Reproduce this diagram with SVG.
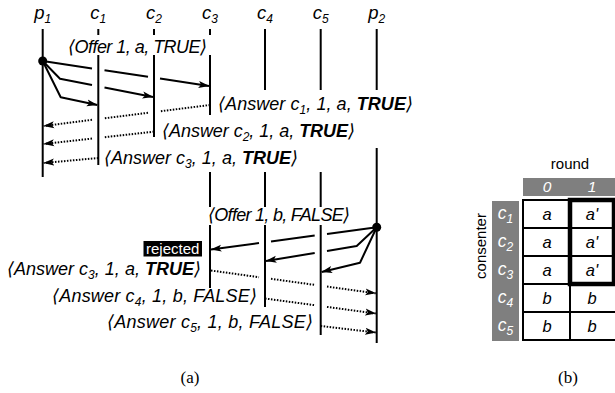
<svg xmlns="http://www.w3.org/2000/svg" width="615" height="393" viewBox="0 0 615 393">
<style>
text{font-family:"Liberation Sans","DejaVu Sans",Arial,sans-serif;fill:#000}
.hdr{font-size:18.5px;font-style:italic;text-anchor:middle}
.lbl{font-size:18px;font-style:italic}
.s{font-size:12px}
.b{font-weight:bold}
.life{stroke:#000;stroke-width:2;fill:none}
.sol{stroke:#000;stroke-width:2;fill:none;stroke-linejoin:round}
.dot{stroke:#000;stroke-width:2;fill:none;stroke-dasharray:1.5 1.5}
.gray{fill:#7f7f7f}
.wt{fill:#fff;font-style:italic}
.cell{font-size:16.5px;font-style:italic;text-anchor:middle}
.grid{stroke:#000;stroke-width:2;fill:none}
.cap{font-family:"Liberation Serif","Times New Roman",serif;font-size:17px;text-anchor:middle}
</style>
<defs>
<marker id="ah" markerUnits="userSpaceOnUse" markerWidth="11" markerHeight="8" viewBox="0 0 11 8" refX="10.5" refY="4" orient="auto">
<path d="M0,0.5 L11,4 L0,7.5 L2.5,4 z" fill="#000"/>
</marker>
</defs>

<g id="lifelines">
<g id="p1"><text class="hdr" x="42.7" y="19">p<tspan class="s" dy="4">1</tspan></text><line class="life" x1="42.7" y1="29" x2="42.7" y2="177"/></g>
<g id="c1"><text class="hdr" x="98.3" y="19">c<tspan class="s" dy="4">1</tspan></text><line class="life" x1="98.3" y1="29" x2="98.3" y2="35"/><line class="life" x1="98.3" y1="55" x2="98.3" y2="165"/></g>
<g id="c2"><text class="hdr" x="154" y="19">c<tspan class="s" dy="4">2</tspan></text><line class="life" x1="154" y1="29" x2="154" y2="35"/><line class="life" x1="154" y1="55" x2="154" y2="137"/></g>
<g id="c3"><text class="hdr" x="210" y="19">c<tspan class="s" dy="4">3</tspan></text><line class="life" x1="210" y1="29" x2="210" y2="35"/><line class="life" x1="210" y1="55" x2="210" y2="115"/><line class="life" x1="210" y1="172" x2="210" y2="207"/><line class="life" x1="210" y1="225" x2="210" y2="288"/></g>
<g id="c4"><text class="hdr" x="265" y="19">c<tspan class="s" dy="4">4</tspan></text><line class="life" x1="265" y1="29" x2="265" y2="90"/><line class="life" x1="265" y1="172" x2="265" y2="207"/><line class="life" x1="265" y1="225" x2="265" y2="307"/></g>
<g id="c5"><text class="hdr" x="320.7" y="19">c<tspan class="s" dy="4">5</tspan></text><line class="life" x1="320.7" y1="29" x2="320.7" y2="90"/><line class="life" x1="320.7" y1="172" x2="320.7" y2="207"/><line class="life" x1="320.7" y1="225" x2="320.7" y2="335"/></g>
<g id="p2"><text class="hdr" x="376.7" y="19">p<tspan class="s" dy="4">2</tspan></text><line class="life" x1="376.7" y1="29" x2="376.7" y2="90"/><line class="life" x1="376.7" y1="148" x2="376.7" y2="343"/></g>
</g>

<g id="connectors">
<circle cx="42.7" cy="61" r="4.5" fill="#000"/>
<polyline class="sol" points="42.7,61 92,68.4"/>
<polyline class="sol" points="104.5,70.3 148,76.8"/>
<polyline class="sol" points="160,78.6 209,86" marker-end="url(#ah)"/>
<polyline class="sol" points="42.7,61 60,78.7 92,85"/>
<polyline class="sol" points="104.5,87.5 153,97" marker-end="url(#ah)"/>
<polyline class="sol" points="42.7,61 60.7,97.3 97.3,105" marker-end="url(#ah)"/>

<polyline class="dot" points="210,105 160,111.3"/>
<polyline class="dot" points="148,112.8 104.5,118.3"/>
<polyline class="dot" points="92,119.8 43.7,126" marker-end="url(#ah)"/>
<polyline class="dot" points="154,131.7 104.5,137.2"/>
<polyline class="dot" points="92,138.6 43.7,144" marker-end="url(#ah)"/>
<polyline class="dot" points="98.3,158 43.7,163" marker-end="url(#ah)"/>

<circle cx="376.7" cy="227.3" r="4.5" fill="#000"/>
<polyline class="sol" points="376.7,227.3 327,234"/>
<polyline class="sol" points="314.7,235.6 271,241.5"/>
<polyline class="sol" points="259,243.1 211,249.5" marker-end="url(#ah)"/>
<polyline class="sol" points="376.7,227.3 356.7,246 327,250.9"/>
<polyline class="sol" points="314.7,253 266,261" marker-end="url(#ah)"/>
<polyline class="sol" points="376.7,227.3 360,262.7 321.7,272" marker-end="url(#ah)"/>

<polyline class="dot" points="211,270.5 259,277.2"/>
<polyline class="dot" points="271,278.8 314.7,284.9"/>
<polyline class="dot" points="327,286.6 375.7,293.3" marker-end="url(#ah)"/>
<polyline class="dot" points="265,298.5 314.7,305.2"/>
<polyline class="dot" points="327,306.9 375.7,313.5" marker-end="url(#ah)"/>
<polyline class="dot" points="320.7,326 375.7,332.5" marker-end="url(#ah)"/>
</g>

<g id="labels">
<text class="lbl" x="68" y="52.5" textLength="139" lengthAdjust="spacing">⟨Offer 1, a, TRUE⟩</text>
<text class="lbl" x="218" y="110" textLength="195" lengthAdjust="spacing">⟨Answer c<tspan class="s" dy="4">1</tspan><tspan dy="-4">, 1, a, </tspan><tspan class="b">TRUE</tspan>⟩</text>
<text class="lbl" x="162" y="136.5" textLength="193" lengthAdjust="spacing">⟨Answer c<tspan class="s" dy="4">2</tspan><tspan dy="-4">, 1, a, </tspan><tspan class="b">TRUE</tspan>⟩</text>
<text class="lbl" x="104" y="163.5" textLength="194" lengthAdjust="spacing">⟨Answer c<tspan class="s" dy="4">3</tspan><tspan dy="-4">, 1, a, </tspan><tspan class="b">TRUE</tspan>⟩</text>
<text class="lbl" x="208" y="221" textLength="142" lengthAdjust="spacing">⟨Offer 1, b, FALSE⟩</text>
<g id="rejected"><rect x="143.5" y="241" width="58.5" height="15.5" fill="#000"/><text x="172.7" y="253.7" font-size="15" text-anchor="middle" style="fill:#fff">rejected</text></g>
<text class="lbl" x="7" y="275" textLength="194" lengthAdjust="spacing">⟨Answer c<tspan class="s" dy="4">3</tspan><tspan dy="-4">, 1, a, </tspan><tspan class="b">TRUE</tspan>⟩</text>
<text class="lbl" x="52" y="301.5" textLength="205" lengthAdjust="spacing">⟨Answer c<tspan class="s" dy="4">4</tspan><tspan dy="-4">, 1, b, FALSE⟩</tspan></text>
<text class="lbl" x="107" y="328" textLength="206" lengthAdjust="spacing">⟨Answer c<tspan class="s" dy="4">5</tspan><tspan dy="-4">, 1, b, FALSE⟩</tspan></text>
<text class="cap" x="190" y="383">(a)</text>
</g>

<g id="table">
<text x="570" y="169" font-size="15" text-anchor="middle">round</text>
<rect class="gray" x="523" y="178" width="95" height="18"/>
<text class="wt" x="547" y="192" font-size="15.5" text-anchor="middle">0</text>
<text class="wt" x="592" y="192" font-size="15.5" text-anchor="middle">1</text>
<text x="486" y="246" font-size="15" text-anchor="middle" transform="rotate(-90 486 246)">consenter</text>
<rect class="gray" x="492" y="201" width="27" height="140"/>
<text class="wt" x="505.5" y="219" font-size="17.5" text-anchor="middle">c<tspan class="s" dy="4">1</tspan></text>
<text class="wt" x="505.5" y="247" font-size="17.5" text-anchor="middle">c<tspan class="s" dy="4">2</tspan></text>
<text class="wt" x="505.5" y="275" font-size="17.5" text-anchor="middle">c<tspan class="s" dy="4">3</tspan></text>
<text class="wt" x="505.5" y="303" font-size="17.5" text-anchor="middle">c<tspan class="s" dy="4">4</tspan></text>
<text class="wt" x="505.5" y="331" font-size="17.5" text-anchor="middle">c<tspan class="s" dy="4">5</tspan></text>
<rect class="grid" x="523" y="200" width="100" height="140" fill="#fff"/>
<line class="grid" x1="570" y1="200" x2="570" y2="340"/>
<line class="grid" x1="523" y1="228" x2="615" y2="228"/>
<line class="grid" x1="523" y1="256" x2="615" y2="256"/>
<line class="grid" x1="523" y1="284" x2="615" y2="284"/>
<line class="grid" x1="523" y1="312" x2="615" y2="312"/>
<rect x="570" y="200" width="44" height="84" fill="none" stroke="#000" stroke-width="4.5"/>
<text class="cell" x="547" y="219.5">a</text><text class="cell" x="592" y="219.5">a'</text>
<text class="cell" x="547" y="247.5">a</text><text class="cell" x="592" y="247.5">a'</text>
<text class="cell" x="547" y="275.5">a</text><text class="cell" x="592" y="275.5">a'</text>
<text class="cell" x="547" y="303.5">b</text><text class="cell" x="592" y="303.5">b</text>
<text class="cell" x="547" y="331.5">b</text><text class="cell" x="592" y="331.5">b</text>
<text class="cap" x="568" y="383">(b)</text>
</g>
</svg>
